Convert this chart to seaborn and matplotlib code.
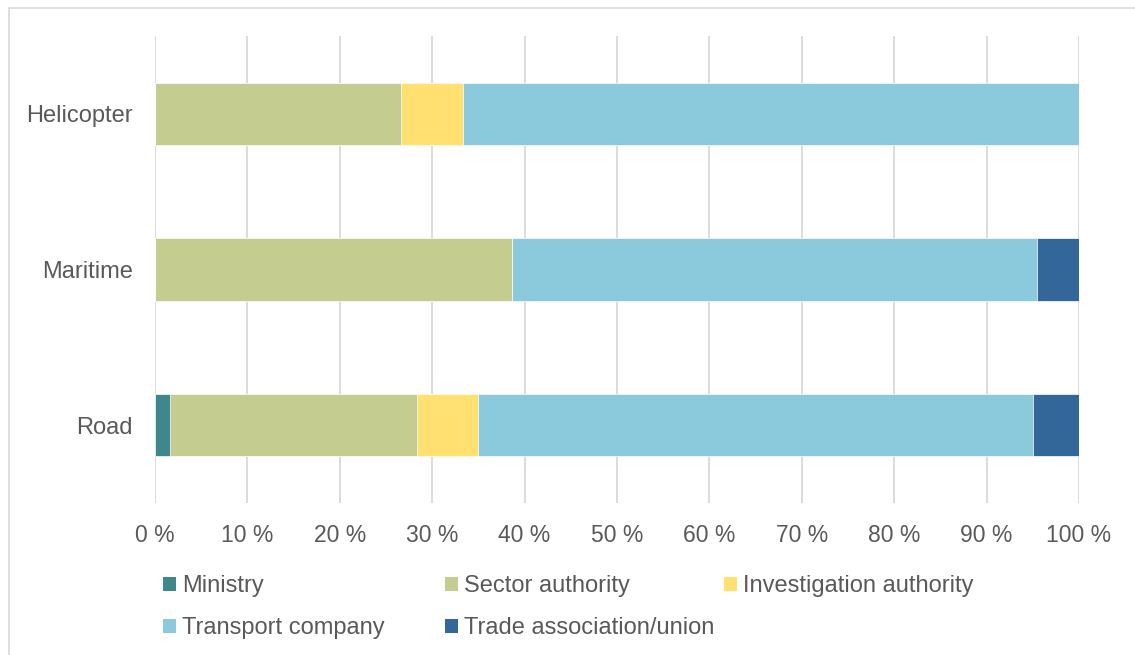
import numpy as np
import pandas as pd
import matplotlib
matplotlib.use("Agg")
import matplotlib.pyplot as plt
import matplotlib.patches as mpatches
from matplotlib.lines import Line2D
import seaborn as sns

# Share of respondents by organisation type, per transport mode (%)
modes = ["Helicopter", "Maritime", "Road"]
groups = ["Ministry", "Sector authority", "Investigation authority",
          "Transport company", "Trade association/union"]
ministry = [0.0, 0.0, 1.67]
sector_authority = [26.67, 38.64, 26.67]
investigation_authority = [6.67, 0.0, 6.67]
transport_company = [66.66, 56.82, 60.0]
trade_association = [0.0, 4.54, 5.0]
ticks = list(range(0, 101, 10))
tick_labels = [f"{t} %" for t in ticks]

colors = ["#3e878a", "#c5cc8f", "#ffe070", "#8bc9dc", "#336699"]
text_color = "#595959"
grid_color = "#d9d9d9"

sns.set_theme(style="white")
plt.rcParams["font.family"] = ["Liberation Sans", "DejaVu Sans"]

df = pd.DataFrame({
    "mode": modes,
    groups[0]: ministry,
    groups[1]: sector_authority,
    groups[2]: investigation_authority,
    groups[3]: transport_company,
    groups[4]: trade_association,
})
cum = df[groups].cumsum(axis=1)

fig = plt.figure(figsize=(11.35, 6.55), dpi=100)
ax = fig.add_axes([155 / 1135, 1 - 503 / 655, (1079 - 155) / 1135, (503 - 36) / 655])

# stacked bars: draw cumulative totals from the outermost segment inwards
for g, c in reversed(list(zip(groups, colors))):
    sns.barplot(x=cum[g], y=df["mode"], order=modes, color=c, width=0.4,
                orient="h", ax=ax, edgecolor="white", linewidth=0.5,
                saturation=1)

ax.set_xlim(0, 100)
ax.set_ylim(2.5, -0.5)
ax.set_xticks(ticks)
ax.set_xticklabels(tick_labels)
ax.set_xlabel("")
ax.set_ylabel("")
ax.xaxis.grid(True, color=grid_color, linewidth=1.3)
ax.set_axisbelow(True)
for s in ax.spines.values():
    s.set_visible(False)
ax.tick_params(axis="x", length=0, pad=15, labelsize=16.5, labelcolor=text_color)
ax.tick_params(axis="y", length=0, pad=16, labelsize=17, labelcolor=text_color)

# legend laid out as equal-width columns
handles = [mpatches.Patch(facecolor=c, edgecolor="none") for c in colors]
columns = [(163, [0, 3]), (445, [1, 4]), (724, [2])]
for x0, idx in columns:
    fig.legend([handles[i] for i in idx], [groups[i] for i in idx],
               loc="upper left", bbox_to_anchor=(x0 / 1135, 1 - 575 / 655),
               frameon=False, fontsize=17, labelcolor=text_color,
               handlelength=0.55, handleheight=0.55, handletextpad=0.25,
               labelspacing=0.85, borderpad=0, borderaxespad=0)

# light chart-area frame along the left and top edges
fx = 8.5 / 1135
fy = 1 - 7.5 / 655
fig.add_artist(Line2D([fx, fx], [0, fy], transform=fig.transFigure,
                      color=grid_color, linewidth=1.2))
fig.add_artist(Line2D([fx, 1], [fy, fy], transform=fig.transFigure,
                      color=grid_color, linewidth=1.2))

fig.savefig("out.png", dpi=100)
